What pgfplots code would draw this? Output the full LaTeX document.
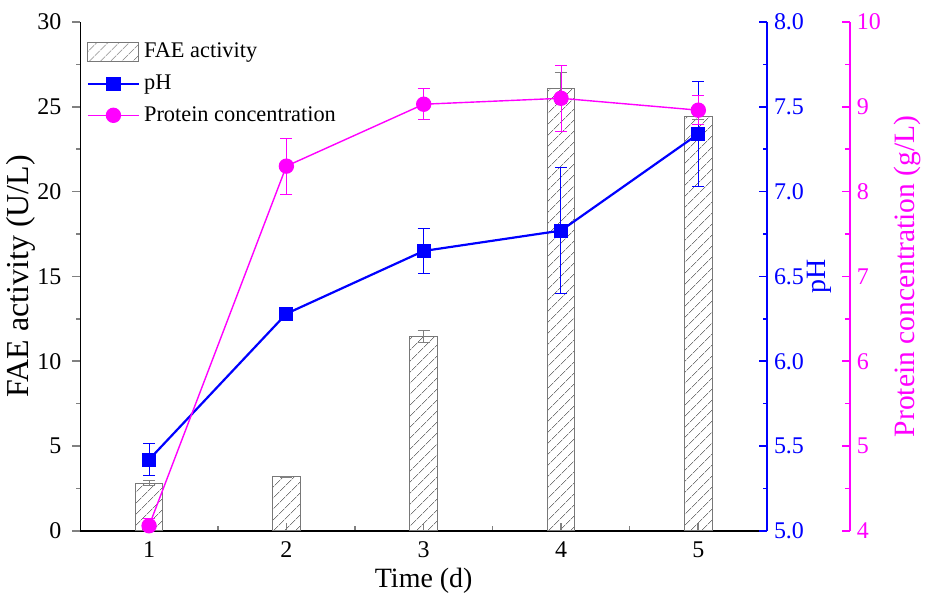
\documentclass[border=0pt]{standalone}
\usepackage{fontspec}
\setmainfont{Liberation Serif}
\usepackage{pgfplots}
\pgfplotsset{compat=1.18}
\usetikzlibrary{patterns.meta}
\definecolor{phblue}{RGB}{0,0,255}
\definecolor{protmag}{RGB}{255,0,255}
\definecolor{bargray}{RGB}{120,120,120}

\pgfplotsset{
  base/.style={
    height=255pt, scale only axis,
    xmin=0.5,
    /pgf/number format/assume math mode=true,
    tick label style={font=\fontsize{12}{14}\selectfont},
    label style={font=\fontsize{14}{16}\selectfont},
    major tick length=4pt, minor tick length=2.2pt,
    axis line style={line width=0.8pt},
    tick style={line width=0.8pt},
  },
  errs/.style={error bars/.cd, y dir=both, y explicit,
    error bar style={#1, line width=0.5pt},
    error mark options={#1, rotate=90, mark size=3pt, line width=0.5pt},
    /pgfplots/.cd},
  lineleg/.style={legend image code/.code={
    \draw[mark repeat=2, mark phase=2, ##1] plot coordinates {(0cm,0cm) (0.45cm,0cm) (0.9cm,0cm)};}},
}

\begin{document}
\begin{tikzpicture}
% FAE activity bars, left axis
\begin{axis}[base, width=344pt, xmax=5.5,
  axis x line*=bottom, axis y line*=left,
  ymin=0, ymax=30, ytick={0,5,...,30}, minor y tick num=1,
  xtick={1,...,5}, minor x tick num=1,
  xtick align=inside, ytick align=outside,
  yticklabel style={xshift=-2pt}, xticklabel style={yshift=-2pt},
  xlabel={Time (d)}, ylabel={FAE activity (U/L)},
  ylabel style={font=\fontsize{16}{18}\selectfont}, ylabel shift=-6pt,
  xlabel shift=-2pt,
  legend cell align=left,
  legend style={at={(rel axis cs:0.0,0.975)}, anchor=north west, draw=none, fill=none,
    font=\fontsize{11.2}{13}\selectfont, row sep=3pt},
]
\addplot[ybar, bar width=0.2, draw=bargray, line width=0.5pt,
  pattern={Lines[angle=45, distance=4pt, line width=0.4pt]}, pattern color=bargray,
  legend image code/.code={\draw[bargray, line width=0.5pt, pattern={Lines[angle=45, distance=4pt, line width=0.4pt]}, pattern color=bargray] (0cm,-0.17cm) rectangle (0.9cm,0.17cm);},
  errs=gray]
  coordinates {(1,2.82) +- (0,0.12) (2,3.18) +- (0,0.05) (3,11.45) +- (0,0.35) (4,26.1) +- (0,0.92) (5,24.4) +- (0,0.15)};
\addlegendentry{FAE activity}
\addlegendimage{lineleg, phblue, line width=1.1pt, mark=square*, mark size=3pt}
\addlegendentry{pH}
\addlegendimage{lineleg, protmag, line width=0.7pt, mark=*, mark size=3.5pt}
\addlegendentry{Protein concentration}
\end{axis}

% pH, first right axis
\begin{axis}[base, width=344pt, xmax=5.5,
  axis x line=none, axis y line*=right,
  ymin=5, ymax=8, ytick={5,5.5,...,8}, minor y tick num=1, ytick align=inside,
  y axis line style={phblue}, ytick style={phblue},
  yticklabel style={phblue, /pgf/number format/fixed, /pgf/number format/fixed zerofill, /pgf/number format/precision=1},
  ylabel={pH}, ylabel style={phblue}, ylabel shift=-5pt,
]
\addplot[phblue, line width=1.1pt, mark=square*, mark size=3pt, errs=phblue]
  coordinates {(1,5.42) +- (0,0.095) (2,6.28) +- (0,0) (3,6.65) +- (0,0.13) (4,6.77) +- (0,0.37) (5,7.34) +- (0,0.31)};
\end{axis}

% protein concentration, offset right axis
\begin{axis}[base, width=385.5pt, xmax=6.103,
  axis x line=none, axis y line*=right,
  ymin=4, ymax=10, ytick={4,...,10}, minor y tick num=1, ytick align=inside,
  y axis line style={protmag}, ytick style={protmag},
  yticklabel style={protmag},
  ylabel={Protein concentration (g/L)}, ylabel style={protmag, font=\fontsize{14.8}{16}\selectfont},
]
\addplot[protmag, line width=0.7pt, mark=*, mark size=3.5pt, errs=protmag]
  coordinates {(1,4.06) +- (0,0.08) (2,8.30) +- (0,0.33) (3,9.03) +- (0,0.18) (4,9.10) +- (0,0.39) (5,8.96) +- (0,0.17)};
\end{axis}
\path ([yshift=11pt]current axis.north);
\end{tikzpicture}
\end{document}
